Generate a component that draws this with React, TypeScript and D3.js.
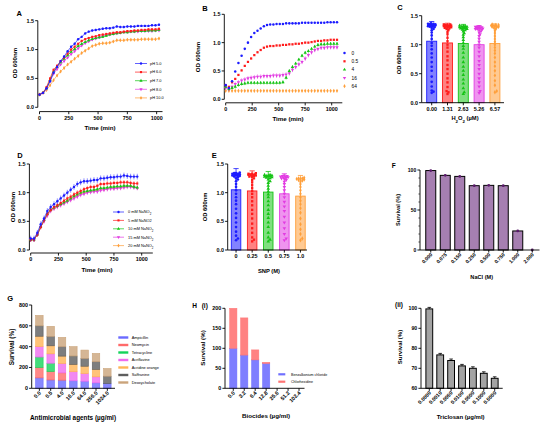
import React from "react";
import * as d3 from "d3";

const FONT = "'Liberation Sans', Arial, Helvetica, sans-serif";
const BLUE = "#1c1cff";
const RED = "#ff1c1c";
const GREEN = "#16c416";
const MAGENTA = "#e23ce2";
const ORANGE = "#ff9f3a";
const COLORS = [BLUE, RED, GREEN, MAGENTA, ORANGE];

// ---------- Panel A: pH growth curves ----------
const timeA = [0, 30, 60, 90, 120, 150, 180, 210, 240, 270, 300, 330, 360, 390, 420, 450, 480, 510, 540, 570, 600, 630, 660, 690, 720, 750, 780, 810, 840, 870, 900, 930, 960, 990, 1020];
const phLabels = ["pH 5.0", "pH 6.0", "pH 7.0", "pH 8.0", "pH 10.0"];
const ph5 = [0.22, 0.25, 0.33, 0.45, 0.60, 0.70, 0.80, 0.88, 0.97, 1.05, 1.10, 1.18, 1.22, 1.28, 1.31, 1.33, 1.34, 1.35, 1.36, 1.37, 1.37, 1.38, 1.40, 1.39, 1.39, 1.40, 1.40, 1.40, 1.41, 1.41, 1.41, 1.41, 1.42, 1.42, 1.43];
const ph6 = [0.22, 0.25, 0.35, 0.50, 0.65, 0.72, 0.80, 0.86, 0.93, 1.00, 1.05, 1.10, 1.15, 1.18, 1.20, 1.22, 1.23, 1.25, 1.26, 1.27, 1.28, 1.29, 1.30, 1.30, 1.31, 1.32, 1.32, 1.33, 1.33, 1.34, 1.34, 1.35, 1.35, 1.35, 1.36];
const ph7 = [0.22, 0.25, 0.33, 0.47, 0.62, 0.70, 0.78, 0.84, 0.90, 0.96, 1.01, 1.06, 1.10, 1.13, 1.16, 1.18, 1.20, 1.21, 1.22, 1.24, 1.26, 1.27, 1.28, 1.29, 1.30, 1.30, 1.31, 1.31, 1.32, 1.32, 1.32, 1.33, 1.33, 1.33, 1.34];
const ph8 = [0.22, 0.25, 0.32, 0.45, 0.58, 0.66, 0.74, 0.80, 0.86, 0.92, 0.97, 1.02, 1.07, 1.11, 1.14, 1.17, 1.19, 1.21, 1.23, 1.25, 1.26, 1.27, 1.28, 1.29, 1.30, 1.30, 1.31, 1.31, 1.31, 1.32, 1.32, 1.32, 1.32, 1.33, 1.33];
const ph10 = [0.22, 0.25, 0.30, 0.38, 0.47, 0.55, 0.62, 0.68, 0.74, 0.79, 0.84, 0.89, 0.94, 0.98, 1.02, 1.06, 1.08, 1.10, 1.11, 1.11, 1.12, 1.14, 1.16, 1.16, 1.16, 1.17, 1.17, 1.17, 1.17, 1.18, 1.18, 1.18, 1.18, 1.18, 1.19];
const phErr = [0.02, 0.02, 0.02, 0.02, 0.025];

// ---------- Panel B: dose growth curves ----------
const timeB = [0, 30, 60, 90, 120, 150, 180, 210, 240, 270, 300, 330, 360, 390, 420, 450, 480, 510, 540, 570, 600, 630, 660, 690, 720, 750, 780, 810, 840, 870, 900, 930, 960, 990, 1020, 1050];
const doseLabels = ["0", "0.5", "4", "16", "64"];
const dose0 = [0.25, 0.20, 0.32, 0.49, 0.64, 0.77, 0.89, 1.00, 1.10, 1.17, 1.21, 1.25, 1.29, 1.31, 1.32, 1.32, 1.33, 1.33, 1.33, 1.34, 1.34, 1.34, 1.34, 1.34, 1.35, 1.35, 1.35, 1.35, 1.35, 1.35, 1.35, 1.35, 1.36, 1.36, 1.36, 1.36];
const dose05 = [0.25, 0.22, 0.30, 0.36, 0.43, 0.51, 0.59, 0.66, 0.72, 0.78, 0.83, 0.87, 0.91, 0.93, 0.94, 0.94, 0.95, 0.95, 0.96, 0.96, 0.97, 0.97, 0.98, 0.98, 0.99, 1.00, 1.00, 1.01, 1.02, 1.03, 1.03, 1.04, 1.04, 1.05, 1.05, 1.05];
const dose4 = [0.22, 0.18, 0.20, 0.22, 0.25, 0.27, 0.28, 0.29, 0.29, 0.29, 0.29, 0.29, 0.29, 0.29, 0.29, 0.29, 0.29, 0.29, 0.30, 0.38, 0.50, 0.57, 0.63, 0.70, 0.77, 0.82, 0.85, 0.89, 0.93, 0.96, 0.97, 0.97, 0.98, 0.98, 0.98, 0.98];
const dose16 = [0.20, 0.18, 0.22, 0.27, 0.30, 0.33, 0.35, 0.37, 0.38, 0.39, 0.40, 0.40, 0.41, 0.41, 0.41, 0.42, 0.42, 0.42, 0.43, 0.44, 0.46, 0.52, 0.57, 0.62, 0.66, 0.72, 0.78, 0.83, 0.87, 0.89, 0.91, 0.91, 0.92, 0.92, 0.92, 0.92];
const dose64 = [0.15, 0.15, 0.15, 0.15, 0.15, 0.15, 0.15, 0.15, 0.15, 0.15, 0.15, 0.15, 0.15, 0.15, 0.15, 0.15, 0.15, 0.15, 0.15, 0.15, 0.15, 0.15, 0.15, 0.15, 0.15, 0.15, 0.15, 0.15, 0.15, 0.15, 0.15, 0.15, 0.15, 0.15, 0.15, 0.15];
const doseErr = [0.01, 0.015, 0.03, 0.04, 0.005];

// ---------- Panel C: H2O2 ----------
const h2o2Labels = ["0.00", "1.31", "2.63", "5.26", "6.57"];
const h2o2Means = [1.06, 1.03, 1.02, 1.0, 1.02];
const h2o2Sd = [0.34, 0.34, 0.33, 0.33, 0.34];
const h2o2Pts0 = [0.17, 0.19, 0.21, 0.28, 0.36, 0.45, 0.55, 0.62, 0.70, 0.78, 0.85, 0.92, 0.98, 1.03, 1.10, 1.16, 1.21, 1.25, 1.27, 1.29, 1.30, 1.31, 1.32, 1.32, 1.33, 1.33, 1.34, 1.34, 1.35, 1.35, 1.35, 1.36, 1.36, 1.37];
const h2o2Pts1 = [0.15, 0.18, 0.20, 0.27, 0.35, 0.42, 0.50, 0.58, 0.65, 0.73, 0.80, 0.88, 0.95, 1.00, 1.06, 1.12, 1.18, 1.22, 1.25, 1.27, 1.28, 1.29, 1.30, 1.30, 1.31, 1.31, 1.32, 1.32, 1.33, 1.33, 1.34, 1.34, 1.35, 1.35];
const h2o2Pts2 = [0.15, 0.18, 0.25, 0.33, 0.40, 0.48, 0.55, 0.62, 0.70, 0.78, 0.86, 0.93, 0.98, 1.03, 1.08, 1.13, 1.17, 1.20, 1.23, 1.25, 1.26, 1.27, 1.28, 1.28, 1.29, 1.29, 1.30, 1.30, 1.31, 1.31, 1.32, 1.32, 1.33];
const h2o2Pts3 = [0.17, 0.20, 0.28, 0.35, 0.42, 0.50, 0.58, 0.65, 0.72, 0.80, 0.88, 0.95, 1.00, 1.05, 1.10, 1.15, 1.18, 1.21, 1.23, 1.25, 1.26, 1.27, 1.27, 1.28, 1.28, 1.29, 1.29, 1.30, 1.30, 1.31, 1.31, 1.32];
const h2o2Pts4 = [0.18, 0.20, 0.30, 0.38, 0.47, 0.55, 0.63, 0.70, 0.78, 0.85, 0.90, 0.95, 1.00, 1.05, 1.10, 1.15, 1.20, 1.24, 1.27, 1.29, 1.30, 1.31, 1.31, 1.32, 1.32, 1.33, 1.33, 1.34, 1.34, 1.35];

// ---------- Panel D: NaNO2 growth curves ----------
const timeD = [0, 30, 60, 90, 120, 150, 180, 210, 240, 270, 300, 330, 360, 390, 420, 450, 480, 510, 540, 570, 600, 630, 660, 690, 720, 750, 780, 810, 840, 870, 900, 930, 960];
const nitriteConc = ["0", "5", "10", "15", "20"];
const no2_0 = [0.20, 0.20, 0.30, 0.45, 0.55, 0.68, 0.75, 0.80, 0.85, 0.90, 0.95, 1.00, 1.05, 1.10, 1.15, 1.18, 1.20, 1.20, 1.21, 1.22, 1.22, 1.25, 1.25, 1.26, 1.27, 1.27, 1.28, 1.28, 1.30, 1.29, 1.28, 1.28, 1.28];
const no2_5 = [0.18, 0.18, 0.27, 0.40, 0.52, 0.63, 0.70, 0.75, 0.78, 0.82, 0.86, 0.90, 0.93, 0.97, 1.00, 1.03, 1.06, 1.08, 1.10, 1.10, 1.12, 1.15, 1.15, 1.16, 1.16, 1.17, 1.17, 1.18, 1.18, 1.18, 1.17, 1.16, 1.16];
const no2_10 = [0.18, 0.18, 0.27, 0.40, 0.52, 0.63, 0.70, 0.74, 0.77, 0.80, 0.83, 0.86, 0.90, 0.94, 0.97, 1.00, 1.02, 1.03, 1.04, 1.05, 1.06, 1.08, 1.08, 1.09, 1.10, 1.10, 1.11, 1.11, 1.12, 1.12, 1.12, 1.10, 1.09];
const no2_15 = [0.18, 0.18, 0.27, 0.40, 0.50, 0.60, 0.68, 0.72, 0.75, 0.78, 0.81, 0.84, 0.87, 0.90, 0.93, 0.96, 0.98, 1.00, 1.01, 1.02, 1.02, 1.04, 1.05, 1.06, 1.07, 1.07, 1.08, 1.08, 1.09, 1.10, 1.10, 1.09, 1.08];
const no2_20 = [0.18, 0.18, 0.27, 0.40, 0.51, 0.62, 0.69, 0.73, 0.76, 0.79, 0.82, 0.85, 0.88, 0.92, 0.95, 0.98, 1.00, 1.01, 1.02, 1.03, 1.04, 1.06, 1.06, 1.07, 1.08, 1.08, 1.09, 1.09, 1.10, 1.11, 1.11, 1.10, 1.08];
const no2Err = [0.05, 0.04, 0.03, 0.04, 0.02];

// ---------- Panel E: SNP ----------
const snpLabels = ["0", "0.25", "0.5", "0.75", "1.0"];
const snpMeans = [1.05, 1.03, 1.01, 0.98, 0.94];
const snpSd = [0.37, 0.35, 0.36, 0.35, 0.36];
const snpPts0 = [0.17, 0.20, 0.25, 0.32, 0.40, 0.48, 0.56, 0.64, 0.72, 0.80, 0.86, 0.92, 0.98, 1.04, 1.10, 1.15, 1.20, 1.23, 1.25, 1.27, 1.28, 1.29, 1.30, 1.30, 1.31, 1.31, 1.32, 1.32, 1.33, 1.33, 1.34, 1.34, 1.35];
const snpPts1 = [0.15, 0.18, 0.22, 0.30, 0.38, 0.46, 0.55, 0.63, 0.70, 0.78, 0.85, 0.92, 0.98, 1.03, 1.08, 1.13, 1.18, 1.22, 1.25, 1.27, 1.28, 1.29, 1.30, 1.30, 1.31, 1.31, 1.32, 1.32, 1.33, 1.33, 1.34];
const snpPts2 = [0.15, 0.18, 0.22, 0.30, 0.40, 0.48, 0.56, 0.63, 0.70, 0.78, 0.85, 0.92, 0.97, 1.02, 1.07, 1.12, 1.17, 1.20, 1.23, 1.25, 1.26, 1.27, 1.28, 1.28, 1.29, 1.29, 1.30, 1.30, 1.31, 1.31];
const snpPts3 = [0.17, 0.20, 0.28, 0.38, 0.48, 0.58, 0.68, 0.76, 0.84, 0.92, 0.98, 1.04, 1.10, 1.15, 1.19, 1.22, 1.24, 1.25, 1.26, 1.27, 1.27, 1.28, 1.28, 1.29, 1.29, 1.30];
const snpPts4 = [0.17, 0.20, 0.28, 0.36, 0.45, 0.55, 0.65, 0.73, 0.80, 0.86, 0.92, 0.98, 1.04, 1.10, 1.15, 1.19, 1.21, 1.22, 1.23, 1.24, 1.24, 1.25, 1.25, 1.26];

// ---------- Panel F: NaCl ----------
const naclLabels = ["0.000", "0.075", "0.150", "0.250", "0.500", "0.750", "1.000", "2.000"];
const naclSurvival = [99.3, 93.3, 92.0, 80.4, 80.8, 80.4, 23.8, 0];

// ---------- Panel G: antimicrobials ----------
const agentConc = ["0.0", "0.5", "4.0", "16.0", "64.0", "256.0", "1024.0"];
const agentNames = ["Ampicillin", "Neomycin", "Tetracycline", "Acriflavine", "Acridine orange", "Saffranine", "Deoxycholate"];
const agentColors = ["#6a6aff", "#ff6a6a", "#14d35a", "#ef6bef", "#ffb456", "#5e5e5e", "#caa47b"];
const ampicillin = [100, 80, 78, 72, 68, 52, 45];
const neomycin = [100, 81, 70, 0, 0, 0, 0];
const tetracycline = [100, 80, 0, 0, 0, 0, 0];
const acriflavine = [100, 90, 90, 87, 73, 58, 0];
const acridineOrange = [100, 77, 71, 70, 71, 71, 0];
const saffranine = [100, 90, 90, 81, 74, 74, 71];
const deoxycholate = [100, 97, 90, 90, 81, 80, 74];

// ---------- Panel H(i): biocides ----------
const biocideConc = ["0.0", "3.2", "6.4", "12.8", "25.6", "51.2", "102.4"];
const biocideNames = ["Benzalkonium chloride", "Chlorhexidine"];
const biocideColors = ["#7070ff", "#ff7474"];
const benzalkonium = [100, 83, 71, 62, 0, 0, 0];
const chlorhexidine = [100, 93, 25, 3, 0, 0, 0];

// ---------- Panel H(ii): triclosan ----------
const triclosanConc = ["0.0000", "0.0010", "0.0050", "0.0100", "0.0500", "0.1000", "0.5000"];
const triclosanSurvival = [99.7, 76.7, 73.9, 71.2, 70.0, 67.5, 65.0];

// ---------------- helpers ----------------
const TICK = 5.4;

function markerPath(i: number, size: number) {
  const types = [d3.symbolCircle, d3.symbolSquare, d3.symbolTriangle, d3.symbolTriangle, d3.symbolDiamond];
  return d3.symbol(types[i], size)() as string;
}

function Marker({ i, x, y, size, color }: any) {
  return (
    <path
      d={markerPath(i, size)}
      transform={`translate(${x},${y})${i === 3 ? " rotate(180)" : ""}`}
      fill={color}
    />
  );
}

function YAxis({ scale, x, ticks, fmt, fs = TICK, minor }: any) {
  const [r0, r1] = scale.range();
  return (
    <g>
      <line x1={x} x2={x} y1={r0} y2={r1} stroke="#000" strokeWidth={0.9} />
      {minor &&
        minor.map((v: number) => (
          <line key={"m" + v} x1={x - 1.6} x2={x} y1={scale(v)} y2={scale(v)} stroke="#000" strokeWidth={0.6} />
        ))}
      {ticks.map((v: number) => (
        <g key={v}>
          <line x1={x - 2.6} x2={x} y1={scale(v)} y2={scale(v)} stroke="#000" strokeWidth={0.9} />
          <text x={x - 3.8} y={scale(v)} dy="0.35em" textAnchor="end" fontSize={fs} fontWeight="bold">
            {fmt(v)}
          </text>
        </g>
      ))}
    </g>
  );
}

function XAxisLinear({ scale, y, ticks, x0, x1, fs = TICK }: any) {
  return (
    <g>
      <line x1={x0} x2={x1} y1={y} y2={y} stroke="#000" strokeWidth={0.9} />
      {ticks.map((v: number) => (
        <g key={v}>
          <line x1={scale(v)} x2={scale(v)} y1={y} y2={y + 2.6} stroke="#000" strokeWidth={0.9} />
          <text x={scale(v)} y={y + 8.2} textAnchor="middle" fontSize={fs} fontWeight="bold">
            {v}
          </text>
        </g>
      ))}
    </g>
  );
}

function XAxisBand({ scale, y, x0, x1, labels, rotate, fs = TICK }: any) {
  return (
    <g>
      <line x1={x0} x2={x1} y1={y} y2={y} stroke="#000" strokeWidth={0.9} />
      {labels.map((l: string) => {
        const cx = scale(l);
        return (
          <g key={l}>
            <line x1={cx} x2={cx} y1={y} y2={y + 2.6} stroke="#000" strokeWidth={0.9} />
            {rotate ? (
              <text
                transform={`translate(${cx + 2},${y + 5}) rotate(-45)`}
                textAnchor="end"
                fontSize={fs}
                fontWeight="bold"
              >
                {l}
              </text>
            ) : (
              <text x={cx} y={y + 8.4} textAnchor="middle" fontSize={fs} fontWeight="bold">
                {l}
              </text>
            )}
          </g>
        );
      })}
    </g>
  );
}

function YTitle({ x, y, text, fs = 6.2 }: any) {
  return (
    <text transform={`translate(${x},${y}) rotate(-90)`} textAnchor="middle" fontSize={fs} fontWeight="bold" dy="0.35em">
      {text}
    </text>
  );
}

function Title({ x, y, children, fs = 6.2 }: any) {
  return (
    <text x={x} y={y} textAnchor="middle" fontSize={fs} fontWeight="bold">
      {children}
    </text>
  );
}

function PanelLetter({ x, y, children, fs = 7.5 }: any) {
  return (
    <text x={x} y={y} fontSize={fs} fontWeight="bold" fill="#000">
      {children}
    </text>
  );
}

function Curves({ time, series, xs, ys, errs, lines, size }: any) {
  const order = [4, 3, 2, 1, 0];
  return (
    <g>
      {order.map((i) => {
        const vals = series[i];
        const c = COLORS[i];
        const line = d3
          .line<number>()
          .x((_, k) => xs(time[k]))
          .y((v) => ys(v));
        return (
          <g key={i}>
            {lines && <path d={line(vals) as string} fill="none" stroke={c} strokeWidth={0.7} />}
            {vals.map((v: number, k: number) => (
              <line
                key={"e" + k}
                x1={xs(time[k])}
                x2={xs(time[k])}
                y1={ys(v - errs[i])}
                y2={ys(v + errs[i])}
                stroke={c}
                strokeWidth={0.5}
              />
            ))}
            {vals.map((v: number, k: number) => (
              <Marker key={k} i={i} x={xs(time[k])} y={ys(v)} size={size} color={c} />
            ))}
          </g>
        );
      })}
    </g>
  );
}

function swarm(values: number[], ys: (v: number) => number, cx: number, r: number, maxHalf: number) {
  const sorted = [...values].sort((a, b) => a - b);
  const placed: { x: number; y: number }[] = [];
  const cands = [0];
  for (let k = 1; k <= 14; k++) cands.push(k * r * 0.8, -k * r * 0.8);
  for (const v of sorted) {
    const py = ys(v);
    let best = 0;
    let bestD = -1;
    for (const dx of cands) {
      if (Math.abs(dx) > maxHalf) continue;
      let minD = Infinity;
      for (const p of placed) {
        const d = Math.hypot(p.x - (cx + dx), p.y - py);
        if (d < minD) minD = d;
      }
      if (minD >= 1.7 * r) {
        best = dx;
        bestD = Infinity;
        break;
      }
      if (minD > bestD) {
        bestD = minD;
        best = dx;
      }
    }
    placed.push({ x: cx + best, y: py });
  }
  return placed;
}

function ScatterBars({ xs, ys, labels, means, sds, pts, barW }: any) {
  return (
    <g>
      {labels.map((l: string, i: number) => {
        const cx = xs(l);
        const c = COLORS[i];
        const dots = swarm(pts[i], ys, cx, 1.15, barW / 2 - 0.5);
        return (
          <g key={l}>
            <rect
              x={cx - barW / 2}
              y={ys(means[i])}
              width={barW}
              height={ys(0) - ys(means[i])}
              fill={c}
              fillOpacity={0.55}
              stroke={c}
              strokeWidth={0.9}
            />
            <line x1={cx} x2={cx} y1={ys(means[i])} y2={ys(means[i] + sds[i])} stroke={c} strokeWidth={0.8} />
            <line x1={cx - 2.6} x2={cx + 2.6} y1={ys(means[i] + sds[i])} y2={ys(means[i] + sds[i])} stroke={c} strokeWidth={0.8} />
            {dots.map((p, k) => (
              <Marker key={k} i={i} x={p.x} y={p.y} size={5.5} color={c} />
            ))}
          </g>
        );
      })}
    </g>
  );
}

const f1 = (v: number) => v.toFixed(1);
const f0 = (v: number) => String(v);

function Sub({ children }: any) {
  return (
    <tspan baselineShift="sub" fontSize="0.75em">
      {children}
    </tspan>
  );
}

// ---------------- panels ----------------
function PanelA() {
  const xs = d3.scaleLinear([0, 1050], [39.5, 162.5]);
  const ys = d3.scaleLinear([0, 1.5], [107.3, 20.7]);
  const series = [ph5, ph6, ph7, ph8, ph10];
  return (
    <g>
      <PanelLetter x={16.5} y={15.7}>A</PanelLetter>
      <YAxis scale={ys} x={37.8} ticks={[0, 0.5, 1, 1.5]} fmt={f1} />
      <XAxisLinear scale={xs} y={111.6} ticks={[0, 250, 500, 750, 1000]} x0={xs(0)} x1={162.5} />
      <YTitle x={15} y={63} text="OD 600nm" />
      <Title x={100} y={129.5}>Time (min)</Title>
      <Curves time={timeA} series={series} xs={xs} ys={ys} errs={phErr} lines size={4.5} />
      {phLabels.map((l, i) => {
        const y = 63.5 + i * 8.6;
        return (
          <g key={l}>
            <line x1={135} x2={147} y1={y} y2={y} stroke={COLORS[i]} strokeWidth={0.7} />
            <Marker i={i} x={141} y={y} size={4.5} color={COLORS[i]} />
            <text x={150} y={y} dy="0.35em" fontSize={3.9}>
              {l}
            </text>
          </g>
        );
      })}
    </g>
  );
}

function PanelB() {
  const xs = d3.scaleLinear([0, 1100], [225.7, 342.3]);
  const ys = d3.scaleLinear([0, 1.5], [99.3, 14.3]);
  const series = [dose0, dose05, dose4, dose16, dose64];
  return (
    <g>
      <PanelLetter x={202.3} y={10.7}>B</PanelLetter>
      <YAxis scale={ys} x={224.3} ticks={[0, 0.5, 1, 1.5]} fmt={f1} />
      <XAxisLinear scale={xs} y={102.8} ticks={[0, 250, 500, 750, 1000]} x0={xs(0)} x1={342.3} />
      <YTitle x={198} y={57} text="OD 600nm" />
      <Title x={288} y={120.5}>Time (min)</Title>
      <Curves time={timeB} series={series} xs={xs} ys={ys} errs={doseErr} lines={false} size={5} />
      {doseLabels.map((l, i) => {
        const y = 53 + i * 8.3;
        return (
          <g key={l}>
            <Marker i={i} x={344.5} y={y} size={5} color={COLORS[i]} />
            <text x={351.5} y={y} dy="0.35em" fontSize={4.8}>
              {l}
            </text>
          </g>
        );
      })}
    </g>
  );
}

function PanelC() {
  const xs = d3.scalePoint<string>().domain(h2o2Labels).range([423.8, 502.8]).padding(0.5);
  const ys = d3.scaleLinear([0, 1.5], [102.7, 15.7]);
  return (
    <g>
      <PanelLetter x={397.3} y={10.3}>C</PanelLetter>
      <ScatterBars
        xs={xs}
        ys={ys}
        labels={h2o2Labels}
        means={h2o2Means}
        sds={h2o2Sd}
        pts={[h2o2Pts0, h2o2Pts1, h2o2Pts2, h2o2Pts3, h2o2Pts4]}
        barW={10}
      />
      <YAxis scale={ys} x={421.7} ticks={[0, 0.5, 1, 1.5]} fmt={f1} />
      <XAxisBand scale={xs} y={102.7} x0={421.7} x1={504} labels={h2o2Labels} />
      <YTitle x={399} y={60} text="OD 600nm" fs={5.8} />
      <Title x={465} y={120} fs={5.8}>
        H<Sub>2</Sub>O<Sub>2</Sub> (µM)
      </Title>
    </g>
  );
}

function PanelD() {
  const xs = d3.scaleLinear([0, 1100], [30.7, 152.8]);
  const ys = d3.scaleLinear([0, 1.5], [250, 164]);
  const series = [no2_0, no2_5, no2_10, no2_15, no2_20];
  const legendTexts = [
    <>0 mM NaNO<Sub>2</Sub></>,
    <>5 mM NaNO2</>,
    <>10 mM NaNO<Sub>2</Sub></>,
    <>15 mM NaNO<Sub>2</Sub></>,
    <>20 mM NaNO<Sub>2</Sub></>,
  ];
  return (
    <g>
      <PanelLetter x={17.3} y={158}>D</PanelLetter>
      <YAxis scale={ys} x={29.4} ticks={[0, 0.5, 1, 1.5]} fmt={f1} />
      <XAxisLinear scale={xs} y={253} ticks={[0, 250, 500, 750, 1000]} x0={xs(0)} x1={152.8} />
      <YTitle x={13} y={207} text="OD 600nm" />
      <Title x={97} y={271.5}>Time (min)</Title>
      <Curves time={timeD} series={series} xs={xs} ys={ys} errs={no2Err} lines size={4.5} />
      {nitriteConc.map((l, i) => {
        const y = 212 + i * 8.4;
        return (
          <g key={l}>
            <line x1={113} x2={124} y1={y} y2={y} stroke={COLORS[i]} strokeWidth={0.7} />
            <Marker i={i} x={118.5} y={y} size={4.5} color={COLORS[i]} />
            <text x={128} y={y} dy="0.35em" fontSize={3.9}>
              {legendTexts[i]}
            </text>
          </g>
        );
      })}
    </g>
  );
}

function PanelE() {
  const xs = d3.scalePoint<string>().domain(snpLabels).range([228, 308.5]).padding(0.5);
  const ys = d3.scaleLinear([0, 1.5], [250, 164]);
  return (
    <g>
      <PanelLetter x={211.7} y={158.3}>E</PanelLetter>
      <ScatterBars
        xs={xs}
        ys={ys}
        labels={snpLabels}
        means={snpMeans}
        sds={snpSd}
        pts={[snpPts0, snpPts1, snpPts2, snpPts3, snpPts4]}
        barW={9.5}
      />
      <YAxis scale={ys} x={227.7} ticks={[0, 0.5, 1, 1.5]} fmt={f1} />
      <XAxisBand scale={xs} y={250} x0={227.7} x1={307} labels={snpLabels} />
      <YTitle x={205} y={207} text="OD 600nm" fs={5.8} />
      <Title x={269} y={272.5} fs={5.8}>SNP (M)</Title>
    </g>
  );
}

function PanelF() {
  const xs = d3.scalePoint<string>().domain(naclLabels).range([423.5, 539.5]).padding(0.5);
  const ys = d3.scaleLinear([0, 100], [250, 170]);
  const bw = 10;
  return (
    <g>
      <PanelLetter x={391.7} y={168.3} fs={6.5}>F</PanelLetter>
      {naclLabels.map((l, i) => (
        <g key={l}>
          <rect
            x={(xs(l) as number) - bw / 2}
            y={ys(naclSurvival[i])}
            width={bw}
            height={ys(0) - ys(naclSurvival[i])}
            fill="#a67fb1"
            stroke="#000"
            strokeWidth={1}
          />
          <circle cx={xs(l) as number} cy={ys(naclSurvival[i])} r={1.4} fill="#5a1a6a" />
        </g>
      ))}
      <YAxis scale={ys} x={420} ticks={[0, 50, 100]} fmt={f0} fs={5} minor={[10, 20, 30, 40, 60, 70, 80, 90]} />
      <XAxisBand scale={xs} y={250} x0={420} x1={539.5} labels={naclLabels} rotate fs={5} />
      <YTitle x={398} y={210} text="Survival (%)" fs={5.6} />
      <Title x={481.7} y={278.5} fs={5.6}>NaCl (M)</Title>
    </g>
  );
}

function PanelG() {
  const xs = d3.scalePoint<string>().domain(agentConc).range([33.7, 113]).padding(0.5);
  const ys = d3.scaleLinear([0, 800], [388.3, 305]);
  const rows = agentConc.map((c, i) => ({
    conc: c,
    Ampicillin: ampicillin[i],
    Neomycin: neomycin[i],
    Tetracycline: tetracycline[i],
    Acriflavine: acriflavine[i],
    "Acridine orange": acridineOrange[i],
    Saffranine: saffranine[i],
    Deoxycholate: deoxycholate[i],
  }));
  const stacked = d3.stack<any>().keys(agentNames)(rows);
  const bw = 7.5;
  return (
    <g>
      <PanelLetter x={7.3} y={301.3}>G</PanelLetter>
      {stacked.map((layer, li) => (
        <g key={layer.key}>
          {layer.map((d, k) =>
            d[1] - d[0] > 0 ? (
              <rect
                key={k}
                x={(xs(agentConc[k]) as number) - bw / 2}
                y={ys(d[1])}
                width={bw}
                height={ys(d[0]) - ys(d[1])}
                fill={agentColors[li]}
                fillOpacity={0.8}
                stroke={agentColors[li]}
                strokeWidth={0.6}
              />
            ) : null
          )}
        </g>
      ))}
      <YAxis scale={ys} x={31.7} ticks={[0, 200, 400, 600, 800]} fmt={f0} fs={5.4} />
      <XAxisBand scale={xs} y={388.3} x0={31.7} x1={115} labels={agentConc} rotate fs={5.4} />
      <YTitle x={12} y={347} text="Survival (%)" fs={6.4} />
      <Title x={73} y={420} fs={6.4}>Antimicrobial agents (µg/ml)</Title>
      {agentNames.map((n, i) => {
        const y = 337.5 + i * 7.5;
        return (
          <g key={n}>
            <rect x={118.3} y={y - 1.2} width={10} height={2.4} fill={agentColors[i]} />
            <text x={131.7} y={y} dy="0.35em" fontSize={3.9}>
              {n}
            </text>
          </g>
        );
      })}
    </g>
  );
}

function PanelH1() {
  const xs = d3.scalePoint<string>().domain(biocideConc).range([227.8, 304.5]).padding(0.5);
  const ys = d3.scaleLinear([0, 200], [388.3, 308.3]);
  const rows = biocideConc.map((c, i) => ({
    conc: c,
    "Benzalkonium chloride": benzalkonium[i],
    Chlorhexidine: chlorhexidine[i],
  }));
  const stacked = d3.stack<any>().keys(biocideNames)(rows);
  const bw = 7.3;
  return (
    <g>
      <PanelLetter x={192.3} y={308.3} fs={6.5}>H</PanelLetter>
      <PanelLetter x={201.7} y={308.3} fs={6.5}>(i)</PanelLetter>
      {stacked.map((layer, li) => (
        <g key={layer.key}>
          {layer.map((d, k) =>
            d[1] - d[0] > 0 ? (
              <rect
                key={k}
                x={(xs(biocideConc[k]) as number) - bw / 2}
                y={ys(d[1])}
                width={bw}
                height={ys(d[0]) - ys(d[1])}
                fill={biocideColors[li]}
                fillOpacity={0.9}
                stroke={biocideColors[li]}
                strokeWidth={0.5}
              />
            ) : null
          )}
        </g>
      ))}
      <YAxis scale={ys} x={225} ticks={[0, 50, 100, 150, 200]} fmt={f0} fs={5.4} />
      <XAxisBand scale={xs} y={388.3} x0={225} x1={304.5} labels={biocideConc} rotate fs={5.4} />
      <YTitle x={203} y={348} text="Survival (%)" fs={6.2} />
      <Title x={266} y={418} fs={6.2}>Biocides (µg/ml)</Title>
      {biocideNames.map((n, i) => {
        const y = 374.3 + i * 7.4;
        return (
          <g key={n}>
            <rect x={278.3} y={y - 1.1} width={7} height={2.2} fill={biocideColors[i]} />
            <text x={291} y={y} dy="0.35em" fontSize={3.6}>
              {n}
            </text>
          </g>
        );
      })}
    </g>
  );
}

function PanelH2() {
  const xs = d3.scalePoint<string>().domain(triclosanConc).range([423.85, 500.15]).padding(0.5);
  const ys = d3.scaleLinear([60, 100], [388.3, 308.3]);
  const bw = 6.8;
  return (
    <g>
      <PanelLetter x={395} y={306.7} fs={6.5}>(ii)</PanelLetter>
      {triclosanConc.map((l, i) => {
        const cx = xs(l) as number;
        const top = ys(triclosanSurvival[i]);
        return (
          <g key={l}>
            <rect x={cx - bw / 2} y={top} width={bw} height={ys(60) - top} fill="#a3a3a3" stroke="#000" strokeWidth={1} />
            <line x1={cx} x2={cx} y1={top} y2={top - 1.5} stroke="#000" strokeWidth={0.8} />
            <line x1={cx - 1.8} x2={cx + 1.8} y1={top - 1.5} y2={top - 1.5} stroke="#000" strokeWidth={0.8} />
          </g>
        );
      })}
      <YAxis scale={ys} x={421} ticks={[60, 70, 80, 90, 100]} fmt={f0} fs={5.2} />
      <XAxisBand scale={xs} y={388.3} x0={421} x1={502.7} labels={triclosanConc} rotate fs={5.2} />
      <YTitle x={400} y={347} text="Survival (%)" fs={6} />
      <Title x={460.7} y={419} fs={6}>Triclosan (µg/ml)</Title>
    </g>
  );
}

export default function App() {
  return (
    <svg
      width={550}
      height={425}
      viewBox="0 0 550 425"
      style={{ position: "absolute", left: 0, top: 0, background: "#fff" }}
      fontFamily={FONT}
    >
      <rect width={550} height={425} fill="#fff" />
      <PanelA />
      <PanelB />
      <PanelC />
      <PanelD />
      <PanelE />
      <PanelF />
      <PanelG />
      <PanelH1 />
      <PanelH2 />
    </svg>
  );
}
